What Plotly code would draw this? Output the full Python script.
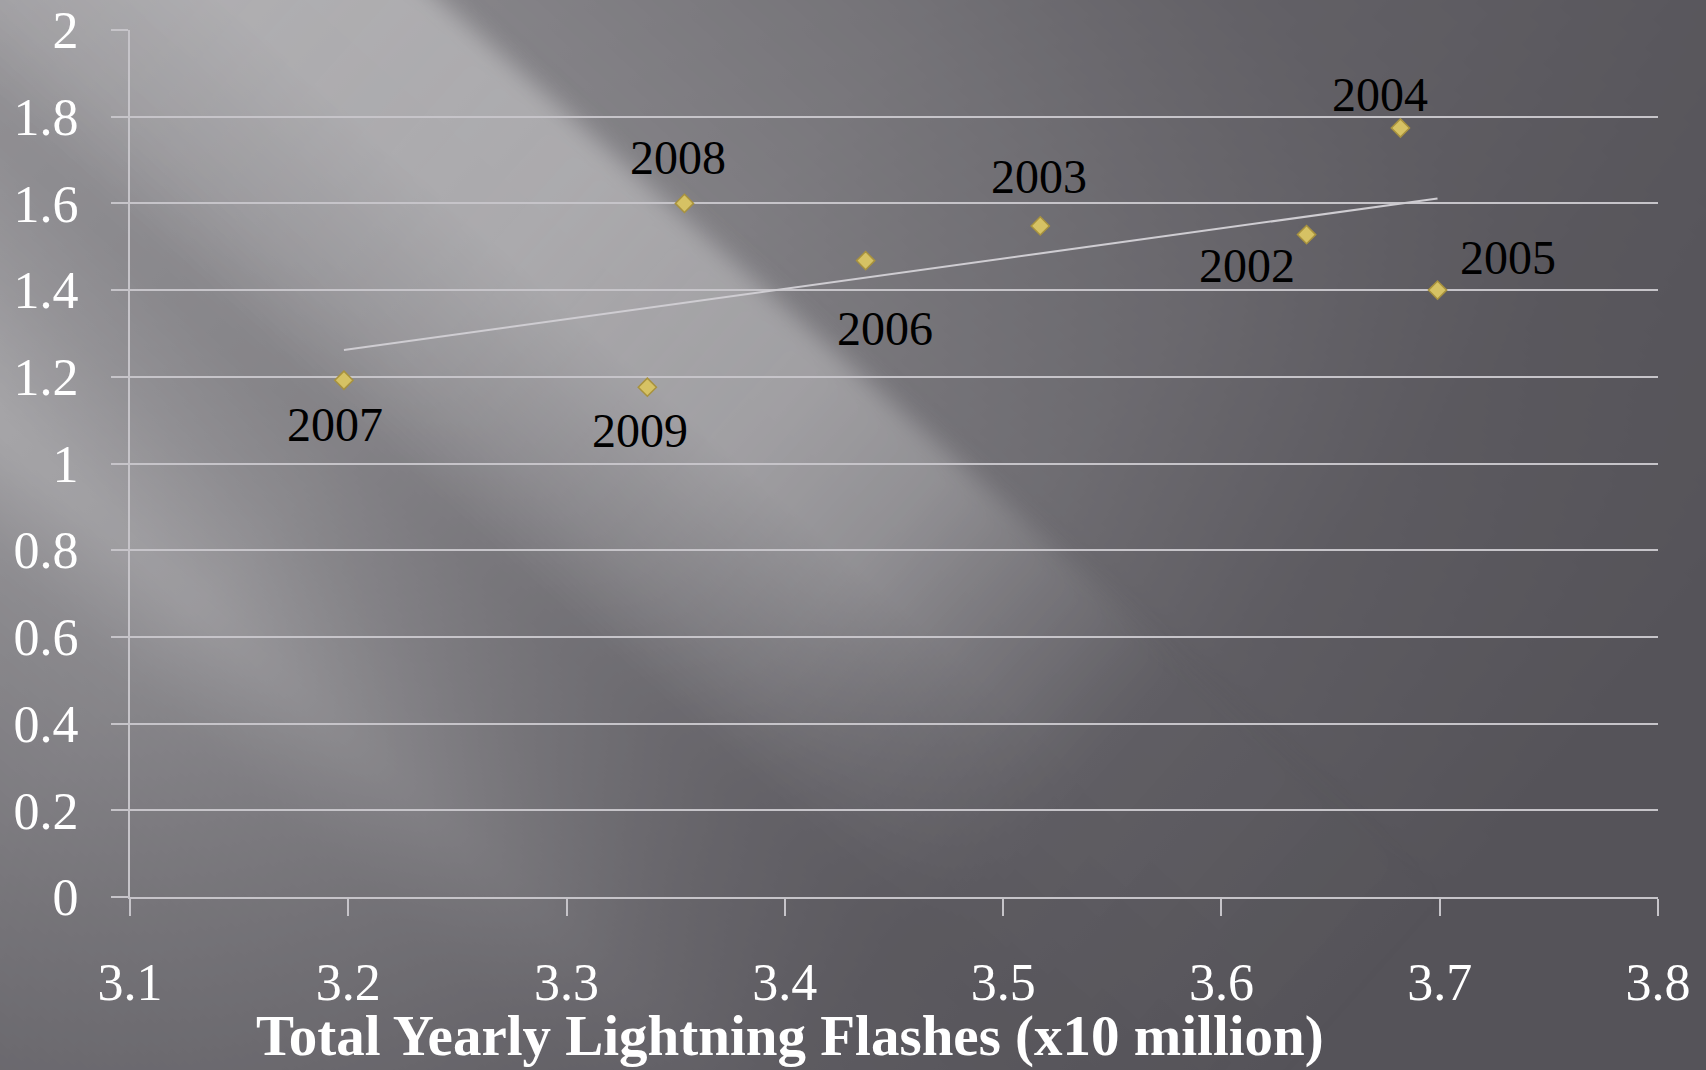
import base64
import numpy as np
import plotly.graph_objects as go

# Yearly totals: lightning flashes (x10 million) against the ratio on the y axis
years = ["2002", "2003", "2004", "2005", "2006", "2007", "2008", "2009"]
flashes = [3.639, 3.517, 3.682, 3.699, 3.437, 3.198, 3.354, 3.337]
ratio = [1.528, 1.548, 1.774, 1.400, 1.468, 1.192, 1.600, 1.176]

x_ticks = [3.1, 3.2, 3.3, 3.4, 3.5, 3.6, 3.7, 3.8]
y_ticks = [0, 0.2, 0.4, 0.6, 0.8, 1, 1.2, 1.4, 1.6, 1.8, 2]

# pixel offsets of each year label from its marker (dx right, dy up)
label_offsets = {
    "2002": (-60, -31), "2003": (-1, 49), "2004": (-20, 33), "2005": (70, 33),
    "2006": (19, -68), "2007": (-9, -44), "2008": (-6, 46), "2009": (-7, -43),
}

W, H = 1706, 1070
L, R, T, B = 130, 48, 30, 173
plot_w, plot_h = W - L - R, H - T - B

# Slide-style backdrop: dark grey with a diagonal wash of light from the top-left.
# "p" gradients run across the light's edge, "s" gradients run along it.
svg = f"""<svg xmlns="http://www.w3.org/2000/svg" width="{W}" height="{H}" viewBox="0 0 {W} {H}" preserveAspectRatio="none">
<defs>
 <linearGradient id="wash" gradientUnits="userSpaceOnUse" x1="203.4" y1="-227.2" x2="-733.7" y2="819.5">
  <stop offset="0" stop-color="#fff" stop-opacity="0.44"/>
  <stop offset="0.217" stop-color="#fff" stop-opacity="0.42"/>
  <stop offset="0.288" stop-color="#fff" stop-opacity="0.35"/>
  <stop offset="0.359" stop-color="#fff" stop-opacity="0.42"/>
  <stop offset="0.445" stop-color="#fff" stop-opacity="0.55"/>
  <stop offset="0.516" stop-color="#fff" stop-opacity="0.40"/>
  <stop offset="0.644" stop-color="#fff" stop-opacity="0.31"/>
  <stop offset="0.786" stop-color="#fff" stop-opacity="0.21"/>
  <stop offset="1" stop-color="#fff" stop-opacity="0.12"/>
 </linearGradient>
 <linearGradient id="washFade" gradientUnits="userSpaceOnUse" x1="0" y1="0" x2="1266.5" y2="1133.9">
  <stop offset="0" stop-color="#fff"/>
  <stop offset="0.324" stop-color="#c4c4c4"/>
  <stop offset="0.53" stop-color="#707070"/>
  <stop offset="0.647" stop-color="#404040"/>
  <stop offset="0.765" stop-color="#1a1a1a"/>
  <stop offset="1" stop-color="#000"/>
 </linearGradient>
 <linearGradient id="ray" gradientUnits="userSpaceOnUse" x1="0" y1="0" x2="1266.5" y2="1133.9">
  <stop offset="0" stop-color="#fff" stop-opacity="0.20"/>
  <stop offset="0.41" stop-color="#fff" stop-opacity="0.28"/>
  <stop offset="0.5" stop-color="#fff" stop-opacity="0.30"/>
  <stop offset="0.6" stop-color="#fff" stop-opacity="0.25"/>
  <stop offset="0.68" stop-color="#fff" stop-opacity="0.14"/>
  <stop offset="0.78" stop-color="#fff" stop-opacity="0.03"/>
  <stop offset="1" stop-color="#fff" stop-opacity="0"/>
 </linearGradient>
 <linearGradient id="rayWidth" gradientUnits="userSpaceOnUse" x1="203.4" y1="-227.2" x2="-66.7" y2="74.5">
  <stop offset="0" stop-color="#fff"/>
  <stop offset="0.383" stop-color="#fff"/>
  <stop offset="0.753" stop-color="#606060"/>
  <stop offset="0.95" stop-color="#000"/>
  <stop offset="1" stop-color="#000"/>
 </linearGradient>
 <linearGradient id="outside" gradientUnits="userSpaceOnUse" x1="203.4" y1="-227.2" x2="1004" y2="-1121">
  <stop offset="0" stop-color="#fff" stop-opacity="0.32"/>
  <stop offset="0.218" stop-color="#fff" stop-opacity="0.24"/>
  <stop offset="0.44" stop-color="#fff" stop-opacity="0.13"/>
  <stop offset="0.777" stop-color="#fff" stop-opacity="0.07"/>
  <stop offset="1" stop-color="#fff" stop-opacity="0.06"/>
 </linearGradient>
 <linearGradient id="outsideFade" gradientUnits="userSpaceOnUse" x1="0" y1="0" x2="1266.5" y2="1133.9">
  <stop offset="0" stop-color="#fff"/>
  <stop offset="0.41" stop-color="#ccc"/>
  <stop offset="0.647" stop-color="#808080"/>
  <stop offset="0.8" stop-color="#303030"/>
  <stop offset="1" stop-color="#000"/>
 </linearGradient>
 <mask id="m1" maskUnits="userSpaceOnUse" x="-400" y="-400" width="2600" height="1900">
  <rect x="-400" y="-400" width="2600" height="1900" fill="url(#washFade)"/>
 </mask>
 <mask id="m2" maskUnits="userSpaceOnUse" x="-400" y="-400" width="2600" height="1900">
  <rect x="-400" y="-400" width="2600" height="1900" fill="url(#rayWidth)"/>
 </mask>
 <mask id="m3" maskUnits="userSpaceOnUse" x="-400" y="-400" width="2600" height="1900">
  <rect x="-400" y="-400" width="2600" height="1900" fill="url(#outsideFade)"/>
 </mask>
 <filter id="soft" x="-30%" y="-30%" width="160%" height="160%"><feGaussianBlur stdDeviation="12"/></filter>
</defs>
<rect width="{W}" height="{H}" fill="#555359"/>
<g mask="url(#m3)"><polygon points="-4,-400 2200,-400 2200,1570 2000,1390" fill="url(#outside)" filter="url(#soft)"/></g>
<g mask="url(#m1)"><polygon points="-400,-400 -4,-400 2000,1390 -400,1600" fill="url(#wash)" filter="url(#soft)"/></g>
<g mask="url(#m2)"><polygon points="-400,-400 -4,-400 2000,1390 -400,1600" fill="url(#ray)" filter="url(#soft)"/></g>
</svg>"""
bg_uri = "data:image/svg+xml;base64," + base64.b64encode(svg.encode()).decode()

grid_col = "#c6c4c9"
serif = "Liberation Serif"

# least-squares trend line across the observed range
slope, icpt = np.polyfit(flashes, ratio, 1)
tx = np.array([min(flashes), max(flashes)])
ty = slope * tx + icpt

fig = go.Figure()
fig.add_trace(go.Scatter(x=tx, y=ty, mode="lines",
                         line=dict(color="#cfcdd2", width=2), hoverinfo="skip"))
fig.add_trace(go.Scatter(x=flashes, y=ratio, mode="markers",
                         marker=dict(symbol="diamond", size=14, color="#d6c264",
                                     line=dict(color="#a8923e", width=1.5))))

for yr, xv, yv in zip(years, flashes, ratio):
    dx, dy = label_offsets[yr]
    fig.add_annotation(x=xv, y=yv, text=yr, showarrow=False, xshift=dx, yshift=dy,
                       font=dict(family=serif, size=48, color="black"))

fig.add_annotation(xref="paper", yref="paper", x=(790 - L) / plot_w, y=(T + plot_h - 1036) / plot_h,
                   text="<b>Total Yearly Lightning Flashes (x10 million)</b>", showarrow=False,
                   xanchor="center", yanchor="middle",
                   font=dict(family=serif, size=57, color="white"))

fig.add_layout_image(source=bg_uri, xref="paper", yref="paper",
                     x=-L / plot_w, y=1 + T / plot_h, sizex=W / plot_w, sizey=H / plot_h,
                     xanchor="left", yanchor="top", sizing="stretch", layer="below")

fig.update_layout(
    width=W, height=H, margin=dict(l=L, r=R, t=T, b=B, autoexpand=False),
    paper_bgcolor="#5f5d63", plot_bgcolor="rgba(0,0,0,0)", showlegend=False,
    xaxis=dict(range=[3.1, 3.8], tickvals=x_ticks, ticktext=[f"{v:.1f}" for v in x_ticks],
               automargin=False,
               showgrid=False, zeroline=False, showline=True, linecolor=grid_col, linewidth=2,
               ticks="outside", ticklen=17, tickwidth=2, tickcolor=grid_col,
               ticklabelstandoff=22,
               tickfont=dict(family=serif, size=52, color="white")),
    yaxis=dict(range=[0, 2], tickvals=y_ticks, ticktext=[f"{v:g}" for v in y_ticks],
               automargin=False,
               showgrid=True, gridcolor=grid_col, gridwidth=2, zeroline=False,
               showline=True, linecolor=grid_col, linewidth=2,
               ticks="outside", ticklen=17, tickwidth=2, tickcolor=grid_col,
               ticklabelstandoff=22,
               tickfont=dict(family=serif, size=52, color="white")),
)

fig.write_html("out.html")
